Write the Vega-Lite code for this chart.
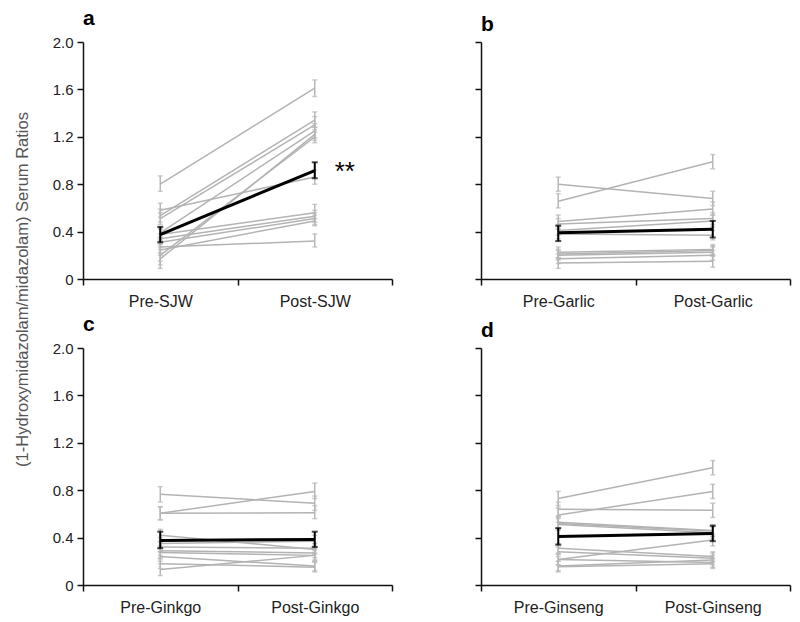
{
"$schema": "https://vega.github.io/schema/vega-lite/v6.json",
"padding": {"left": 14, "top": 8, "right": 5, "bottom": 5},
"background": "white",
"title": {"text": "(1-Hydroxymidazolam/midazolam) Serum Ratios", "orient": "left", "anchor": "middle", "fontSize": 16.5, "fontWeight": "normal", "color": "#555", "font": "Liberation Sans", "offset": 21, "dx": 22},
"datasets": {
"pts": [
{"p":"a","s":"1","ph":"Pre-SJW","v":0.80,"lo":0.74,"hi":0.87},{"p":"a","s":"1","ph":"Post-SJW","v":1.61,"lo":1.54,"hi":1.68},
{"p":"a","s":"2","ph":"Pre-SJW","v":0.535,"lo":0.48,"hi":0.59},{"p":"a","s":"2","ph":"Post-SJW","v":1.34,"lo":1.28,"hi":1.41},
{"p":"a","s":"3","ph":"Pre-SJW","v":0.51,"lo":0.46,"hi":0.56},{"p":"a","s":"3","ph":"Post-SJW","v":1.30,"lo":1.24,"hi":1.37},
{"p":"a","s":"4","ph":"Pre-SJW","v":0.58,"lo":0.52,"hi":0.64},{"p":"a","s":"4","ph":"Post-SJW","v":0.86,"lo":0.80,"hi":0.92},
{"p":"a","s":"5","ph":"Pre-SJW","v":0.39,"lo":0.35,"hi":0.43},{"p":"a","s":"5","ph":"Post-SJW","v":1.25,"lo":1.19,"hi":1.31},
{"p":"a","s":"6","ph":"Pre-SJW","v":0.17,"lo":0.12,"hi":0.22},{"p":"a","s":"6","ph":"Post-SJW","v":1.22,"lo":1.17,"hi":1.28},
{"p":"a","s":"7","ph":"Pre-SJW","v":0.20,"lo":0.15,"hi":0.25},{"p":"a","s":"7","ph":"Post-SJW","v":1.20,"lo":1.15,"hi":1.26},
{"p":"a","s":"8","ph":"Pre-SJW","v":0.375,"lo":0.33,"hi":0.42},{"p":"a","s":"8","ph":"Post-SJW","v":0.56,"lo":0.51,"hi":0.63},
{"p":"a","s":"9","ph":"Pre-SJW","v":0.34,"lo":0.30,"hi":0.38},{"p":"a","s":"9","ph":"Post-SJW","v":0.53,"lo":0.48,"hi":0.58},
{"p":"a","s":"10","ph":"Pre-SJW","v":0.31,"lo":0.27,"hi":0.35},{"p":"a","s":"10","ph":"Post-SJW","v":0.51,"lo":0.46,"hi":0.56},
{"p":"a","s":"11","ph":"Pre-SJW","v":0.245,"lo":0.20,"hi":0.29},{"p":"a","s":"11","ph":"Post-SJW","v":0.49,"lo":0.45,"hi":0.54},
{"p":"a","s":"12","ph":"Pre-SJW","v":0.27,"lo":0.09,"hi":0.32},{"p":"a","s":"12","ph":"Post-SJW","v":0.32,"lo":0.27,"hi":0.38},
{"p":"a","s":"mean","ph":"Pre-SJW","v":0.375,"lo":0.31,"hi":0.44},{"p":"a","s":"mean","ph":"Post-SJW","v":0.915,"lo":0.85,"hi":0.985},

{"p":"b","s":"1","ph":"Pre-Garlic","v":0.80,"lo":0.74,"hi":0.86},{"p":"b","s":"1","ph":"Post-Garlic","v":0.68,"lo":0.62,"hi":0.74},
{"p":"b","s":"2","ph":"Pre-Garlic","v":0.656,"lo":0.60,"hi":0.72},{"p":"b","s":"2","ph":"Post-Garlic","v":0.99,"lo":0.93,"hi":1.05},
{"p":"b","s":"3","ph":"Pre-Garlic","v":0.485,"lo":0.44,"hi":0.54},{"p":"b","s":"3","ph":"Post-Garlic","v":0.59,"lo":0.54,"hi":0.65},
{"p":"b","s":"4","ph":"Pre-Garlic","v":0.465,"lo":0.42,"hi":0.51},{"p":"b","s":"4","ph":"Post-Garlic","v":0.51,"lo":0.46,"hi":0.56},
{"p":"b","s":"5","ph":"Pre-Garlic","v":0.41,"lo":0.37,"hi":0.46},{"p":"b","s":"5","ph":"Post-Garlic","v":0.49,"lo":0.44,"hi":0.54},
{"p":"b","s":"6","ph":"Pre-Garlic","v":0.38,"lo":0.34,"hi":0.42},{"p":"b","s":"6","ph":"Post-Garlic","v":0.37,"lo":0.33,"hi":0.41},
{"p":"b","s":"7","ph":"Pre-Garlic","v":0.225,"lo":0.18,"hi":0.27},{"p":"b","s":"7","ph":"Post-Garlic","v":0.25,"lo":0.21,"hi":0.29},
{"p":"b","s":"8","ph":"Pre-Garlic","v":0.21,"lo":0.17,"hi":0.25},{"p":"b","s":"8","ph":"Post-Garlic","v":0.24,"lo":0.20,"hi":0.28},
{"p":"b","s":"9","ph":"Pre-Garlic","v":0.20,"lo":0.16,"hi":0.24},{"p":"b","s":"9","ph":"Post-Garlic","v":0.225,"lo":0.19,"hi":0.27},
{"p":"b","s":"10","ph":"Pre-Garlic","v":0.17,"lo":0.13,"hi":0.21},{"p":"b","s":"10","ph":"Post-Garlic","v":0.20,"lo":0.16,"hi":0.24},
{"p":"b","s":"11","ph":"Pre-Garlic","v":0.135,"lo":0.09,"hi":0.18},{"p":"b","s":"11","ph":"Post-Garlic","v":0.15,"lo":0.10,"hi":0.20},
{"p":"b","s":"mean","ph":"Pre-Garlic","v":0.39,"lo":0.32,"hi":0.45},{"p":"b","s":"mean","ph":"Post-Garlic","v":0.42,"lo":0.35,"hi":0.49},

{"p":"c","s":"1","ph":"Pre-Ginkgo","v":0.765,"lo":0.70,"hi":0.83},{"p":"c","s":"1","ph":"Post-Ginkgo","v":0.69,"lo":0.63,"hi":0.75},
{"p":"c","s":"2","ph":"Pre-Ginkgo","v":0.605,"lo":0.55,"hi":0.66},{"p":"c","s":"2","ph":"Post-Ginkgo","v":0.79,"lo":0.73,"hi":0.86},
{"p":"c","s":"3","ph":"Pre-Ginkgo","v":0.605,"lo":0.55,"hi":0.66},{"p":"c","s":"3","ph":"Post-Ginkgo","v":0.61,"lo":0.56,"hi":0.67},
{"p":"c","s":"4","ph":"Pre-Ginkgo","v":0.42,"lo":0.37,"hi":0.47},{"p":"c","s":"4","ph":"Post-Ginkgo","v":0.30,"lo":0.26,"hi":0.35},
{"p":"c","s":"5","ph":"Pre-Ginkgo","v":0.35,"lo":0.31,"hi":0.40},{"p":"c","s":"5","ph":"Post-Ginkgo","v":0.37,"lo":0.33,"hi":0.42},
{"p":"c","s":"6","ph":"Pre-Ginkgo","v":0.32,"lo":0.28,"hi":0.36},{"p":"c","s":"6","ph":"Post-Ginkgo","v":0.31,"lo":0.27,"hi":0.35},
{"p":"c","s":"7","ph":"Pre-Ginkgo","v":0.29,"lo":0.25,"hi":0.33},{"p":"c","s":"7","ph":"Post-Ginkgo","v":0.27,"lo":0.23,"hi":0.31},
{"p":"c","s":"8","ph":"Pre-Ginkgo","v":0.275,"lo":0.23,"hi":0.32},{"p":"c","s":"8","ph":"Post-Ginkgo","v":0.25,"lo":0.21,"hi":0.29},
{"p":"c","s":"9","ph":"Pre-Ginkgo","v":0.24,"lo":0.20,"hi":0.28},{"p":"c","s":"9","ph":"Post-Ginkgo","v":0.16,"lo":0.12,"hi":0.20},
{"p":"c","s":"10","ph":"Pre-Ginkgo","v":0.18,"lo":0.14,"hi":0.22},{"p":"c","s":"10","ph":"Post-Ginkgo","v":0.15,"lo":0.11,"hi":0.19},
{"p":"c","s":"11","ph":"Pre-Ginkgo","v":0.13,"lo":0.08,"hi":0.18},{"p":"c","s":"11","ph":"Post-Ginkgo","v":0.25,"lo":0.20,"hi":0.30},
{"p":"c","s":"mean","ph":"Pre-Ginkgo","v":0.375,"lo":0.31,"hi":0.45},{"p":"c","s":"mean","ph":"Post-Ginkgo","v":0.385,"lo":0.32,"hi":0.45},

{"p":"d","s":"1","ph":"Pre-Ginseng","v":0.73,"lo":0.67,"hi":0.79},{"p":"d","s":"1","ph":"Post-Ginseng","v":0.99,"lo":0.93,"hi":1.05},
{"p":"d","s":"2","ph":"Pre-Ginseng","v":0.64,"lo":0.58,"hi":0.70},{"p":"d","s":"2","ph":"Post-Ginseng","v":0.63,"lo":0.57,"hi":0.69},
{"p":"d","s":"3","ph":"Pre-Ginseng","v":0.59,"lo":0.53,"hi":0.65},{"p":"d","s":"3","ph":"Post-Ginseng","v":0.79,"lo":0.73,"hi":0.85},
{"p":"d","s":"4","ph":"Pre-Ginseng","v":0.53,"lo":0.48,"hi":0.58},{"p":"d","s":"4","ph":"Post-Ginseng","v":0.46,"lo":0.41,"hi":0.51},
{"p":"d","s":"5","ph":"Pre-Ginseng","v":0.52,"lo":0.47,"hi":0.57},{"p":"d","s":"5","ph":"Post-Ginseng","v":0.455,"lo":0.41,"hi":0.50},
{"p":"d","s":"6","ph":"Pre-Ginseng","v":0.51,"lo":0.46,"hi":0.56},{"p":"d","s":"6","ph":"Post-Ginseng","v":0.44,"lo":0.39,"hi":0.49},
{"p":"d","s":"7","ph":"Pre-Ginseng","v":0.31,"lo":0.27,"hi":0.35},{"p":"d","s":"7","ph":"Post-Ginseng","v":0.24,"lo":0.20,"hi":0.28},
{"p":"d","s":"8","ph":"Pre-Ginseng","v":0.28,"lo":0.24,"hi":0.32},{"p":"d","s":"8","ph":"Post-Ginseng","v":0.225,"lo":0.19,"hi":0.27},
{"p":"d","s":"9","ph":"Pre-Ginseng","v":0.215,"lo":0.17,"hi":0.26},{"p":"d","s":"9","ph":"Post-Ginseng","v":0.38,"lo":0.33,"hi":0.43},
{"p":"d","s":"10","ph":"Pre-Ginseng","v":0.215,"lo":0.17,"hi":0.26},{"p":"d","s":"10","ph":"Post-Ginseng","v":0.19,"lo":0.15,"hi":0.23},
{"p":"d","s":"11","ph":"Pre-Ginseng","v":0.16,"lo":0.12,"hi":0.20},{"p":"d","s":"11","ph":"Post-Ginseng","v":0.21,"lo":0.17,"hi":0.25},
{"p":"d","s":"12","ph":"Pre-Ginseng","v":0.155,"lo":0.11,"hi":0.20},{"p":"d","s":"12","ph":"Post-Ginseng","v":0.18,"lo":0.14,"hi":0.22},
{"p":"d","s":"mean","ph":"Pre-Ginseng","v":0.41,"lo":0.34,"hi":0.48},{"p":"d","s":"mean","ph":"Post-Ginseng","v":0.435,"lo":0.37,"hi":0.50}
]
},
"columns": 2,
"spacing": {"row": 5, "column": 81},
"concat": [
{
"title": {"text": "a", "anchor": "start", "frame": "group", "fontSize": 21, "fontWeight": "bold", "color": "#000", "offset": 6},
"width": 309, "height": 237,
"data": {"name": "pts"},
"encoding": {"x": {"field": "ph", "type": "nominal", "scale": {"domain": ["Pre-SJW", "Post-SJW"], "paddingInner": 0, "paddingOuter": 0}, "axis": {"title": null, "labelAngle": 0, "tickBand": "extent"}}},
"layer": [
{"transform": [{"filter": "datum.p=='a' && datum.s!='mean'"}], "mark": {"type": "errorbar", "color": "#b8b8b8", "thickness": 1.5, "ticks": {"size": 5}}, "encoding": {"y": {"field": "lo", "type": "quantitative", "scale": {"domain": [0, 2]}, "axis": {"values": [0, 0.4, 0.8, 1.2, 1.6, 2], "labelExpr": "datum.value==0?'0':format(datum.value,'.1f')", "title": null}}, "y2": {"field": "hi"}}},
{"transform": [{"filter": "datum.p=='a' && datum.s!='mean'"}], "mark": {"type": "line", "color": "#b3b3b3", "strokeWidth": 1.5}, "encoding": {"y": {"field": "v", "type": "quantitative", "axis": {"values": [0, 0.4, 0.8, 1.2, 1.6, 2], "labelExpr": "datum.value==0?'0':format(datum.value,'.1f')", "title": null}}, "detail": {"field": "s"}}},
{"transform": [{"filter": "datum.p=='a' && datum.s=='mean'"}], "mark": {"type": "line", "color": "#000", "strokeWidth": 3}, "encoding": {"y": {"field": "v", "type": "quantitative", "axis": {"values": [0, 0.4, 0.8, 1.2, 1.6, 2], "labelExpr": "datum.value==0?'0':format(datum.value,'.1f')", "title": null}}}},
{"transform": [{"filter": "datum.p=='a' && datum.s=='mean'"}], "mark": {"type": "errorbar", "color": "#000", "thickness": 2, "ticks": {"size": 6}}, "encoding": {"y": {"field": "lo", "type": "quantitative", "axis": {"values": [0, 0.4, 0.8, 1.2, 1.6, 2], "labelExpr": "datum.value==0?'0':format(datum.value,'.1f')", "title": null}}, "y2": {"field": "hi"}}},
{"data": {"values": [{"ph": "Post-SJW", "v": 0.9, "t": "**"}]}, "mark": {"type": "text", "dx": 30, "fontSize": 26, "baseline": "middle", "align": "center", "color": "#000", "font": "Liberation Sans"}, "encoding": {"y": {"field": "v", "type": "quantitative", "axis": {"values": [0, 0.4, 0.8, 1.2, 1.6, 2], "labelExpr": "datum.value==0?'0':format(datum.value,'.1f')", "title": null}}, "text": {"field": "t"}}}
]
},
{
"title": {"text": "b", "anchor": "start", "frame": "group", "fontSize": 21, "fontWeight": "bold", "color": "#000", "offset": 6},
"width": 309, "height": 237,
"data": {"name": "pts"},
"encoding": {"x": {"field": "ph", "type": "nominal", "scale": {"domain": ["Pre-Garlic", "Post-Garlic"], "paddingInner": 0, "paddingOuter": 0}, "axis": {"title": null, "labelAngle": 0, "tickBand": "extent"}}},
"layer": [
{"transform": [{"filter": "datum.p=='b' && datum.s!='mean'"}], "mark": {"type": "errorbar", "color": "#b8b8b8", "thickness": 1.5, "ticks": {"size": 5}}, "encoding": {"y": {"field": "lo", "type": "quantitative", "scale": {"domain": [0, 2]}, "axis": {"values": [0, 0.4, 0.8, 1.2, 1.6, 2], "labels": false, "title": null}}, "y2": {"field": "hi"}}},
{"transform": [{"filter": "datum.p=='b' && datum.s!='mean'"}], "mark": {"type": "line", "color": "#b3b3b3", "strokeWidth": 1.5}, "encoding": {"y": {"field": "v", "type": "quantitative", "axis": {"values": [0, 0.4, 0.8, 1.2, 1.6, 2], "labels": false, "title": null}}, "detail": {"field": "s"}}},
{"transform": [{"filter": "datum.p=='b' && datum.s=='mean'"}], "mark": {"type": "line", "color": "#000", "strokeWidth": 3}, "encoding": {"y": {"field": "v", "type": "quantitative", "axis": {"values": [0, 0.4, 0.8, 1.2, 1.6, 2], "labels": false, "title": null}}}},
{"transform": [{"filter": "datum.p=='b' && datum.s=='mean'"}], "mark": {"type": "errorbar", "color": "#000", "thickness": 2, "ticks": {"size": 6}}, "encoding": {"y": {"field": "lo", "type": "quantitative", "axis": {"values": [0, 0.4, 0.8, 1.2, 1.6, 2], "labels": false, "title": null}}, "y2": {"field": "hi"}}}
]
},
{
"title": {"text": "c", "anchor": "start", "frame": "group", "fontSize": 21, "fontWeight": "bold", "color": "#000", "offset": 6},
"width": 309, "height": 237,
"data": {"name": "pts"},
"encoding": {"x": {"field": "ph", "type": "nominal", "scale": {"domain": ["Pre-Ginkgo", "Post-Ginkgo"], "paddingInner": 0, "paddingOuter": 0}, "axis": {"title": null, "labelAngle": 0, "tickBand": "extent"}}},
"layer": [
{"transform": [{"filter": "datum.p=='c' && datum.s!='mean'"}], "mark": {"type": "errorbar", "color": "#b8b8b8", "thickness": 1.5, "ticks": {"size": 5}}, "encoding": {"y": {"field": "lo", "type": "quantitative", "scale": {"domain": [0, 2]}, "axis": {"values": [0, 0.4, 0.8, 1.2, 1.6, 2], "labelExpr": "datum.value==0?'0':format(datum.value,'.1f')", "title": null}}, "y2": {"field": "hi"}}},
{"transform": [{"filter": "datum.p=='c' && datum.s!='mean'"}], "mark": {"type": "line", "color": "#b3b3b3", "strokeWidth": 1.5}, "encoding": {"y": {"field": "v", "type": "quantitative", "axis": {"values": [0, 0.4, 0.8, 1.2, 1.6, 2], "labelExpr": "datum.value==0?'0':format(datum.value,'.1f')", "title": null}}, "detail": {"field": "s"}}},
{"transform": [{"filter": "datum.p=='c' && datum.s=='mean'"}], "mark": {"type": "line", "color": "#000", "strokeWidth": 3}, "encoding": {"y": {"field": "v", "type": "quantitative", "axis": {"values": [0, 0.4, 0.8, 1.2, 1.6, 2], "labelExpr": "datum.value==0?'0':format(datum.value,'.1f')", "title": null}}}},
{"transform": [{"filter": "datum.p=='c' && datum.s=='mean'"}], "mark": {"type": "errorbar", "color": "#000", "thickness": 2, "ticks": {"size": 6}}, "encoding": {"y": {"field": "lo", "type": "quantitative", "axis": {"values": [0, 0.4, 0.8, 1.2, 1.6, 2], "labelExpr": "datum.value==0?'0':format(datum.value,'.1f')", "title": null}}, "y2": {"field": "hi"}}}
]
},
{
"title": {"text": "d", "anchor": "start", "frame": "group", "fontSize": 21, "fontWeight": "bold", "color": "#000", "offset": 6},
"width": 309, "height": 237,
"data": {"name": "pts"},
"encoding": {"x": {"field": "ph", "type": "nominal", "scale": {"domain": ["Pre-Ginseng", "Post-Ginseng"], "paddingInner": 0, "paddingOuter": 0}, "axis": {"title": null, "labelAngle": 0, "tickBand": "extent"}}},
"layer": [
{"transform": [{"filter": "datum.p=='d' && datum.s!='mean'"}], "mark": {"type": "errorbar", "color": "#b8b8b8", "thickness": 1.5, "ticks": {"size": 5}}, "encoding": {"y": {"field": "lo", "type": "quantitative", "scale": {"domain": [0, 2]}, "axis": {"values": [0, 0.4, 0.8, 1.2, 1.6, 2], "labels": false, "title": null}}, "y2": {"field": "hi"}}},
{"transform": [{"filter": "datum.p=='d' && datum.s!='mean'"}], "mark": {"type": "line", "color": "#b3b3b3", "strokeWidth": 1.5}, "encoding": {"y": {"field": "v", "type": "quantitative", "axis": {"values": [0, 0.4, 0.8, 1.2, 1.6, 2], "labels": false, "title": null}}, "detail": {"field": "s"}}},
{"transform": [{"filter": "datum.p=='d' && datum.s=='mean'"}], "mark": {"type": "line", "color": "#000", "strokeWidth": 3}, "encoding": {"y": {"field": "v", "type": "quantitative", "axis": {"values": [0, 0.4, 0.8, 1.2, 1.6, 2], "labels": false, "title": null}}}},
{"transform": [{"filter": "datum.p=='d' && datum.s=='mean'"}], "mark": {"type": "errorbar", "color": "#000", "thickness": 2, "ticks": {"size": 6}}, "encoding": {"y": {"field": "lo", "type": "quantitative", "axis": {"values": [0, 0.4, 0.8, 1.2, 1.6, 2], "labels": false, "title": null}}, "y2": {"field": "hi"}}}
]
}
],
"config": {
"font": "Liberation Sans",
"view": {"stroke": null},
"axis": {"grid": false, "domainColor": "#111", "domainWidth": 1.5, "tickColor": "#111", "tickWidth": 1.5, "tickSize": 6, "labelFont": "Liberation Sans", "labelFontSize": 15, "labelColor": "#222", "labelPadding": 4},
"axisX": {"labelPadding": 8, "labelFontSize": 16}
}
}
